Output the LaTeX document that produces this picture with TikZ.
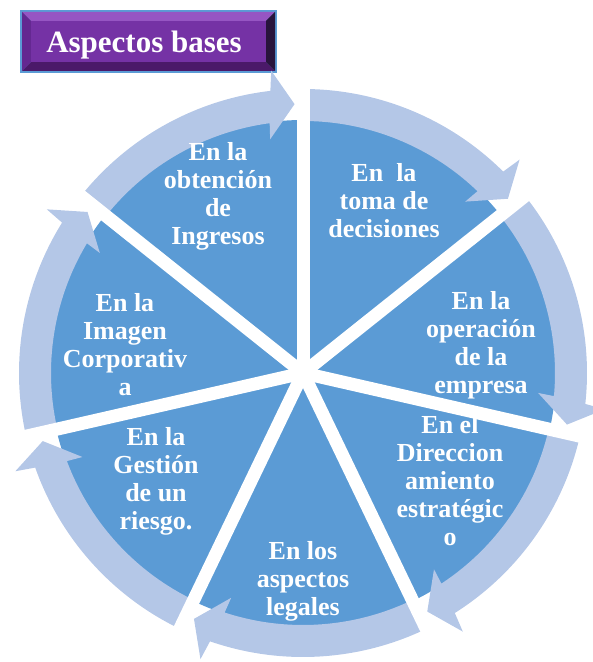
\documentclass[tikz,border=0pt]{standalone}
\usepackage{fontspec}
\setmainfont{Liberation Serif}
\definecolor{pieblue}{RGB}{91, 155, 213}
\definecolor{ringblue}{RGB}{180, 199, 231}
\definecolor{titleface}{RGB}{117, 50, 165}
\definecolor{titlelight}{RGB}{150, 85, 195}
\definecolor{titlemid}{RGB}{100, 40, 145}
\definecolor{titledark}{RGB}{75, 25, 105}
\definecolor{titledeep}{RGB}{40, 20, 60}
\definecolor{titleborder}{RGB}{91, 155, 213}
\usetikzlibrary{calc}

\begin{document}
\begin{tikzpicture}[x=1pt, y=1pt,
    segtext/.style={text=white, font=\fontsize{26}{28}\selectfont\bfseries, align=center, inner sep=0pt},
    spoke/.style={draw=white, line width=13pt},
    ringarrow/.style={fill=ringblue}]
  \useasboundingbox (0,0) rectangle (593,662);

  % Title
  \fill[titleborder] (20,589) rectangle (277,652);
  \fill[titlelight] (22,650) -- (275,650) -- (266,641) -- (31,641) -- cycle;
  \fill[titledark] (22,591) -- (275,591) -- (266,600) -- (31,600) -- cycle;
  \fill[titlemid] (22,591) -- (22,650) -- (31,641) -- (31,600) -- cycle;
  \fill[titledeep] (275,591) -- (275,650) -- (266,641) -- (266,600) -- cycle;
  \fill[titleface] (31,600) rectangle (266,641);
  \node[anchor=base, text=white, font=\fontsize{31}{36}\selectfont\bfseries, inner sep=0pt] (title) at (144,609) {Aspectos bases};

  % Cycle
  \begin{scope}[shift={(303,289)}]
    \fill[pieblue] (0,0) circle[radius=253];
    \foreach \k in {0,...,6} {
      \pgfmathsetmacro\s{90-\k*360/7}
      \pgfmathsetmacro\e{\s-360/7}
      \fill[ringarrow] (\s:252) arc[start angle=\s, end angle=\e+7.6, radius=252]
        -- ({\e+8}:236) -- ({\e+1.8}:269) -- ({\e+6}:304) -- ({\e+6.6}:284)
        arc[start angle=\e+6.6, end angle=\s, radius=284] -- cycle;
    }

    \node[segtext] (ingresos) at (-85,177) {En la\\obtención\\de\\Ingresos};
    \node[segtext] (decisiones) at (81,172) {En\ \ la\\toma de\\decisiones};
    \node[segtext] (operacion) at (178,28) {En la\\operación\\de la\\empresa};
    \node[segtext] (direccion) at (147,-108) {En el\\Direccion\\amiento\\estratégic\\o};
    \node[segtext] (legales) at (0,-208) {En los\\aspectos\\legales};
    \node[segtext] (riesgo) at (-147,-108) {En la\\Gestión\\de un\\riesgo.};
    \node[segtext] (imagen) at (-178,28) {En la\\Imagen\\Corporativ\\a};

    \foreach \k in {0,...,6} {
      \pgfmathsetmacro\s{90-\k*360/7}
      \draw[spoke] (0,0) -- (\s:300);
    }
  \end{scope}
\end{tikzpicture}
\end{document}
